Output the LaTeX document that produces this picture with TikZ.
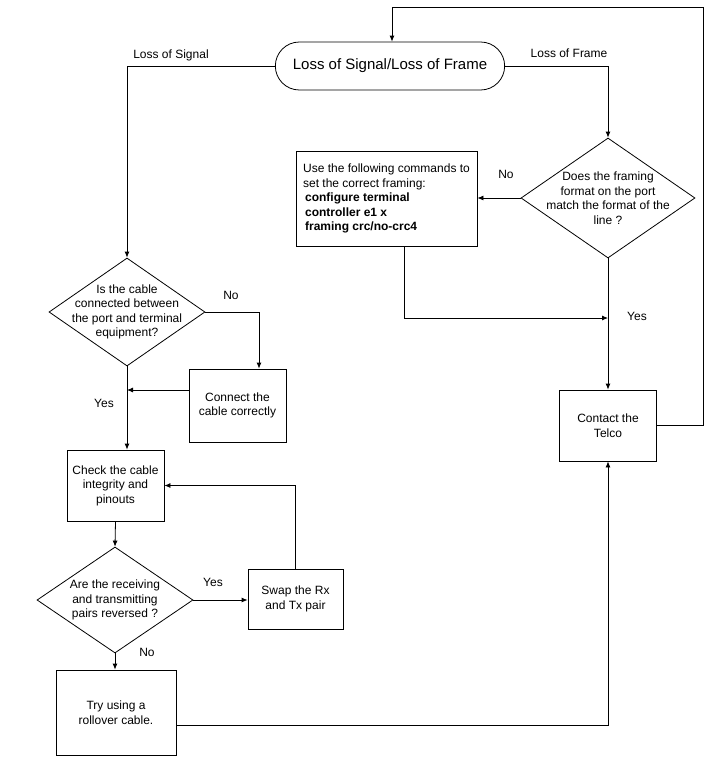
\documentclass[tikz,border=0pt]{standalone}
\usepackage{fontspec}
\setmainfont{Liberation Sans}
\usetikzlibrary{shapes.geometric,shapes.misc,arrows.meta}

\begin{document}
\begin{tikzpicture}[x=1pt,y=-1pt,line width=0.8pt,
    font=\fontsize{12}{14.5}\selectfont,
    arr/.style={-{Latex[length=6pt,width=5pt]}},
    box/.style={draw,rectangle,align=center,inner sep=2pt},
    decision/.style={draw,diamond,inner sep=0pt}]
  \useasboundingbox (0,0) rectangle (709,758);

  \node[draw,rounded rectangle,minimum width=236pt,minimum height=48pt,
        font=\fontsize{15}{18}\selectfont] (start) at (390,66) {Loss of Signal/Loss of Frame};

  \node[decision,minimum width=174pt,minimum height=120pt,
        label={[align=center]center:Does the framing\\format on the port\\match the format of the\\line ?}] (frm) at (608,198) {};
  \node[draw,align=left,minimum width=181pt,minimum height=95pt] (cmd) at (386.5,198.5)
        {Use the following commands to\\set the correct framing:\\
         \hspace{2pt}\textbf{configure terminal}\\\hspace{2pt}\textbf{controller e1 x}\\\hspace{2pt}\textbf{framing crc/no-crc4}};
  \node[box,minimum width=97pt,minimum height=71pt] (telco) at (608,425.5) {Contact the\\Telco};

  \node[decision,minimum width=156pt,minimum height=108pt,
        label={[align=center]center:Is the cable\\connected between\\the port and terminal\\equipment?}] (cbl) at (127,312) {};
  \node[box,minimum width=97pt,minimum height=73pt] (fix) at (237.5,405.5) {Connect the\\cable correctly};
  \node[box,minimum width=97pt,minimum height=71pt] (check) at (115.5,485.5) {Check the cable\\integrity and\\pinouts};
  \node[decision,minimum width=156pt,minimum height=106pt,
        label={[align=center]center:Are the receiving\\and transmitting\\pairs reversed ?}] (pairs) at (115,600) {};
  \node[box,minimum width=95pt,minimum height=60pt] (swap) at (295.5,599) {Swap the Rx\\and Tx pair};
  \node[box,minimum width=120pt,minimum height=85pt] (roll) at (116,712.5) {Try using a\\rollover cable.};

  \coordinate (ctop) at (703,7);
  \coordinate (join) at (608,318);

  \draw[arr] (start.west) -| (cbl.north);
  \draw[arr] (start.east) -| (frm.north);
  \draw[arr] (frm.west) -- (frm.west -| cmd.east);
  \draw[arr] ([xshift=17.5pt]cmd.south) |- (join);
  \draw[arr] (frm.south) -- (telco.north);
  \draw[arr] (telco.east) -| (ctop) -| ([xshift=2pt]start.north);

  \draw[arr] (cbl.east) -| ([xshift=21.5pt]fix.north);
  \draw[arr] ([yshift=15.5pt]fix.west) -- ([yshift=15.5pt]fix.west -| cbl.south);
  \draw[arr] (cbl.south) -- (cbl.south |- check.north);
  \draw[arr] (check.south) -- (pairs.north);
  \draw[arr] (pairs.east) -- (pairs.east -| swap.west);
  \draw[arr] (swap.north) |- (check.east);
  \draw[arr] (pairs.south) -- (pairs.south |- roll.north);
  \draw[arr] ([yshift=-12.5pt]roll.east) -| (telco.south);

  \node (lsig) at (171,55) {Loss of Signal};
  \node (lfrm) at (569,53) {Loss of Frame};
  \node (no1) at (506,174) {No};
  \node (yes1) at (637,316) {Yes};
  \node (no2) at (231,295) {No};
  \node (yes2) at (104,403) {Yes};
  \node (yes3) at (213,582) {Yes};
  \node (no3) at (147,652) {No};
\end{tikzpicture}
\end{document}
